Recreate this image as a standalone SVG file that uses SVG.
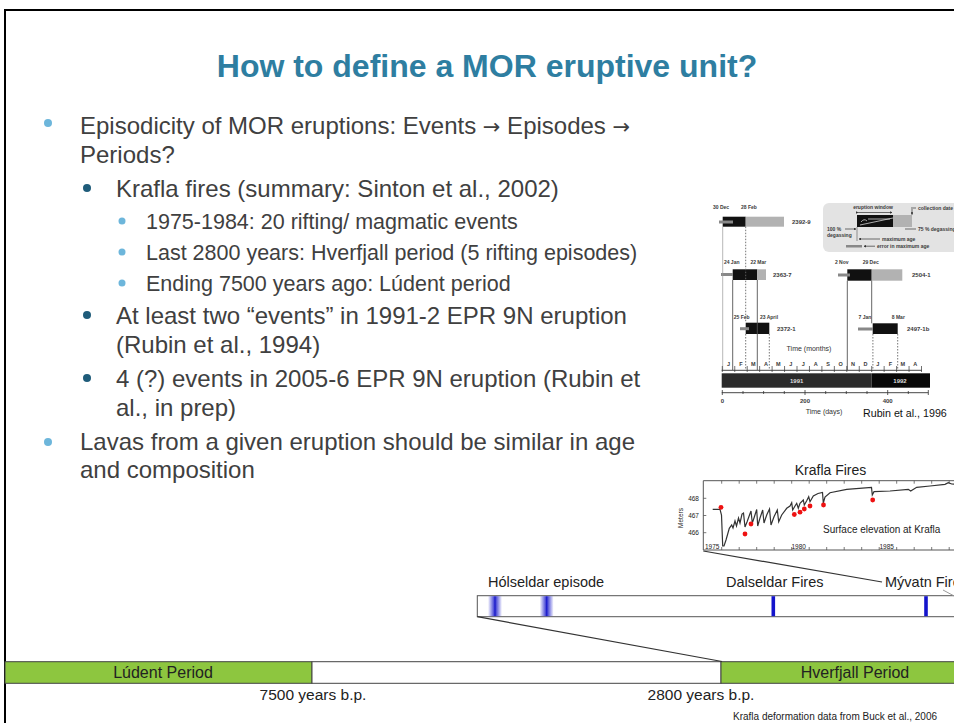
<svg xmlns="http://www.w3.org/2000/svg" width="954" height="723" viewBox="0 0 954 723">
<defs>
<style>
.body{font-family:"Liberation Sans",Arial,sans-serif;fill:#404040}
.l1{font-size:24px}
.l3{font-size:21.5px}
.arr{font-family:"DejaVu Sans",sans-serif;font-size:21px}
.tiny{font-family:"Liberation Sans",Arial,sans-serif;font-size:5px;font-weight:bold;fill:#3a3a3a}
.small{font-family:"Liberation Sans",Arial,sans-serif;fill:#333}
.myr{font-family:"Liberation Sans",Arial,sans-serif;fill:#222}
.blk{fill:#111}
.gry{fill:#b2b2b2}
.vsolid{stroke:#555;stroke-width:0.9;fill:none}
.vdot{stroke:#666;stroke-width:0.9;stroke-dasharray:1.5 1.5;fill:none}
.stub{fill:#888}
.conn{stroke:#333;stroke-width:1.2;fill:none}
</style>
<linearGradient id="blurBlue" x1="0" x2="1" y1="0" y2="0">
<stop offset="0" stop-color="#2a2ad0" stop-opacity="0"/>
<stop offset="0.4" stop-color="#2a2ad0" stop-opacity="0.8"/>
<stop offset="0.5" stop-color="#1515c8" stop-opacity="1"/>
<stop offset="0.6" stop-color="#2a2ad0" stop-opacity="0.8"/>
<stop offset="1" stop-color="#2a2ad0" stop-opacity="0"/>
</linearGradient>
<marker id="ah" viewBox="0 0 6 6" refX="5" refY="3" markerWidth="4" markerHeight="4" orient="auto">
<path d="M0,0 L6,3 L0,6 z" fill="#333"/>
</marker>
</defs>

<rect x="0" y="0" width="954" height="723" fill="#ffffff"/>
<!-- slide border -->
<path d="M5,723 L5,10 L954,10" fill="none" stroke="#000" stroke-width="2"/>

<g id="title">
<text x="487" y="77" text-anchor="middle" font-family="Liberation Sans, Arial, sans-serif" font-size="32" font-weight="bold" fill="#2E7EA1">How to define a MOR eruptive unit?</text>
</g>

<g id="bullets">
<circle cx="48" cy="123" r="4" fill="#6DB6DB"/>
<text class="body l1" x="80" y="134">Episodicity of MOR eruptions: Events <tspan class="arr">→</tspan> Episodes <tspan class="arr">→</tspan></text>
<text class="body l1" x="80" y="163">Periods?</text>
<circle cx="87" cy="188" r="4" fill="#1F5C7A"/>
<text class="body l1" x="116" y="197">Krafla fires (summary: Sinton et al., 2002)</text>
<circle cx="122" cy="221" r="3.5" fill="#6DB6DB"/>
<text class="body l3" x="146" y="229">1975-1984: 20 rifting/ magmatic events</text>
<circle cx="122" cy="252" r="3.5" fill="#6DB6DB"/>
<text class="body l3" x="146" y="260">Last 2800 years: Hverfjall period (5 rifting episodes)</text>
<circle cx="122" cy="283" r="3.5" fill="#6DB6DB"/>
<text class="body l3" x="146" y="291">Ending 7500 years ago: Lúdent period</text>
<circle cx="87" cy="315" r="4" fill="#1F5C7A"/>
<text class="body l1" x="116" y="324">At least two “events” in 1991-2 EPR 9N eruption</text>
<text class="body l1" x="116" y="353">(Rubin et al., 1994)</text>
<circle cx="87" cy="378" r="4" fill="#1F5C7A"/>
<text class="body l1" x="116" y="387">4 (?) events in 2005-6 EPR 9N eruption (Rubin et</text>
<text class="body l1" x="116" y="416">al., in prep)</text>
<circle cx="48" cy="442" r="4" fill="#6DB6DB"/>
<text class="body l1" x="80" y="450">Lavas from a given eruption should be similar in age</text>
<text class="body l1" x="80" y="478">and composition</text>
</g>

<g id="rubin-figure">
<!-- inset legend -->
<rect x="823" y="203" width="140" height="49" rx="6" fill="#e3e3e3"/>
<text class="tiny" x="873" y="209" text-anchor="middle">eruption window</text>
<line x1="858" y1="212.5" x2="892" y2="212.5" stroke="#333" stroke-width="0.7" marker-start="url(#ah)" marker-end="url(#ah)"/>
<line x1="913" y1="208" x2="916" y2="208" stroke="#333" stroke-width="0.7"/>
<text class="tiny" x="918" y="210">collection date</text>
<line x1="912" y1="207" x2="912" y2="214.5" stroke="#333" stroke-width="0.7" marker-end="url(#ah)"/>
<rect x="857" y="215" width="36" height="12" class="blk"/>
<rect x="893" y="215" width="19" height="12" class="gry"/>
<path d="M861,222 q3,-4 6,-1 M868,219 L890,219 M860,225 L893,218" stroke="#eee" stroke-width="0.7" fill="none"/>
<text class="tiny" x="827" y="231">100 %</text>
<line x1="845" y1="229" x2="856" y2="229" stroke="#333" stroke-width="0.7" marker-end="url(#ah)"/>
<text class="tiny" x="827" y="237">degassing</text>
<line x1="905" y1="229" x2="916" y2="229" stroke="#333" stroke-width="0.7"/>
<text class="tiny" x="918" y="231">75 % degassing</text>
<line x1="857" y1="227" x2="857" y2="241" stroke="#555" stroke-width="0.6"/>
<line x1="880" y1="239" x2="859" y2="239" stroke="#333" stroke-width="0.7" marker-end="url(#ah)"/>
<text class="tiny" x="882" y="241">maximum age</text>
<rect x="846" y="245" width="16" height="2.5" class="stub"/>
<line x1="875" y1="246.2" x2="864" y2="246.2" stroke="#333" stroke-width="0.7" marker-end="url(#ah)"/>
<text class="tiny" x="877" y="248">error in maximum age</text>

<!-- 2392-9 -->
<text class="tiny" x="721" y="209" text-anchor="middle">30 Dec</text>
<text class="tiny" x="749" y="209" text-anchor="middle">28 Feb</text>
<rect x="722.7" y="216.7" width="23" height="10" class="blk"/>
<rect x="745.7" y="216.7" width="38.3" height="10" class="gry"/>
<rect x="719" y="220.5" width="14" height="3" class="stub"/>
<text class="tiny" x="792" y="224" style="font-size:6px">2392-9</text>

<!-- 2363-7 -->
<text class="tiny" x="731.7" y="264" text-anchor="middle">24 Jan</text>
<text class="tiny" x="758.3" y="264" text-anchor="middle">22 Mar</text>
<rect x="732.7" y="269.3" width="24.6" height="10.7" class="blk"/>
<rect x="757.3" y="269.3" width="8.7" height="10.7" class="gry"/>
<rect x="721" y="273" width="12" height="3" class="stub"/>
<text class="tiny" x="773" y="276.5" style="font-size:6px">2363-7</text>

<!-- 2504-1 -->
<text class="tiny" x="841.7" y="264" text-anchor="middle">2 Nov</text>
<text class="tiny" x="870.7" y="264" text-anchor="middle">29 Dec</text>
<rect x="847.3" y="269.3" width="24.4" height="11.4" class="blk"/>
<rect x="871.7" y="269.3" width="30.6" height="11.4" class="gry"/>
<rect x="838" y="273.5" width="12" height="3" class="stub"/>
<text class="tiny" x="912" y="276.5" style="font-size:6px">2504-1</text>

<!-- 2372-1 -->
<text class="tiny" x="741.7" y="319" text-anchor="middle">25 Feb</text>
<text class="tiny" x="769" y="319" text-anchor="middle">23 April</text>
<rect x="745.7" y="322.7" width="23.6" height="11.3" class="blk"/>
<rect x="740" y="327.2" width="9" height="3" class="stub"/>
<text class="tiny" x="777" y="330.5" style="font-size:6px">2372-1</text>

<!-- 2497-1b -->
<text class="tiny" x="865" y="319" text-anchor="middle">7 Jan</text>
<text class="tiny" x="898.3" y="319" text-anchor="middle">8 Mar</text>
<rect x="872.7" y="323.3" width="25" height="10.7" class="blk"/>
<rect x="858" y="327.5" width="15" height="3" class="stub"/>
<text class="tiny" x="907" y="331" style="font-size:6px">2497-1b</text>

<!-- vertical guide lines -->
<line x1="722.7" y1="226.7" x2="722.7" y2="370" stroke="#999" stroke-width="0.7"/>
<line x1="732.7" y1="280" x2="732.7" y2="370" class="vsolid"/>
<line x1="745.7" y1="226.7" x2="745.7" y2="322.7" class="vdot"/>
<line x1="745.7" y1="334" x2="745.7" y2="370" class="vdot"/>
<line x1="757.3" y1="280" x2="757.3" y2="370" class="vsolid"/>
<line x1="769.3" y1="334" x2="769.3" y2="370" class="vdot"/>
<line x1="847.3" y1="280.7" x2="847.3" y2="370" class="vsolid"/>
<line x1="871.7" y1="280.7" x2="871.7" y2="323.3" class="vsolid"/>
<line x1="872.9" y1="334" x2="872.9" y2="370" class="vdot"/>
<line x1="897.7" y1="334" x2="897.7" y2="370" class="vdot"/>

<text class="small" x="809" y="350.5" text-anchor="middle" font-size="7">Time (months)</text>

<!-- month axis -->
<line x1="721.7" y1="370.3" x2="921.7" y2="370.3" stroke="#333" stroke-width="0.9"/>
<path d="M722.3,366v6 M734.75,366v6 M747.2,366v6 M759.65,366v6 M772.1,366v6 M784.55,366v6 M797,366v6 M809.45,366v6 M821.9,366v6 M834.35,366v6 M846.8,366v6 M859.25,366v6 M871.7,366v6 M884.15,366v6 M896.6,366v6 M909.05,366v6 M921.5,366v6" stroke="#333" stroke-width="0.7"/>
<g class="tiny" text-anchor="middle" style="font-size:5.5px">
<text x="728.5" y="366">J</text><text x="741" y="366">F</text><text x="753.4" y="366">M</text><text x="765.9" y="366">A</text>
<text x="778.3" y="366">M</text><text x="790.8" y="366">J</text><text x="803.2" y="366">J</text><text x="815.7" y="366">A</text>
<text x="828.1" y="366">S</text><text x="840.6" y="366">O</text><text x="853" y="366">N</text><text x="865.5" y="366">D</text>
<text x="877.9" y="366">J</text><text x="890.4" y="366">F</text><text x="902.8" y="366">M</text><text x="915.3" y="366">A</text>
</g>

<!-- year bar -->
<rect x="721.7" y="373.3" width="150" height="14.4" fill="#2b2b2b"/>
<rect x="871.7" y="373.3" width="58.3" height="14.4" fill="#080808"/>
<text x="796.7" y="382.5" text-anchor="middle" font-family="Liberation Sans, Arial, sans-serif" font-size="6" font-weight="bold" fill="#ddd">1991</text>
<text x="900" y="382.5" text-anchor="middle" font-family="Liberation Sans, Arial, sans-serif" font-size="6" font-weight="bold" fill="#ddd">1992</text>

<!-- days axis -->
<line x1="721.7" y1="392.7" x2="928.3" y2="392.7" stroke="#333" stroke-width="0.9"/>
<path d="M722.3,390v5 M743,391v3 M763.6,391v3 M784.3,391v3 M805,390v5 M825.7,391v3 M846.3,391v3 M867,391v3 M887.7,390v5 M908.3,391v3 M928.3,390v5" stroke="#333" stroke-width="0.8"/>
<text class="tiny" x="722.3" y="403" text-anchor="middle" style="font-size:6px">0</text>
<text class="tiny" x="805" y="403" text-anchor="middle" style="font-size:6px">200</text>
<text class="tiny" x="887.7" y="403" text-anchor="middle" style="font-size:6px">400</text>
<text class="small" x="824" y="414" text-anchor="middle" font-size="7">Time (days)</text>
<text x="863" y="416.6" font-family="Liberation Sans, Arial, sans-serif" font-size="10.7" fill="#111">Rubin et al., 1996</text>
</g>

<g id="krafla-plot">
<text class="myr" x="830.5" y="475" text-anchor="middle" font-size="14">Krafla Fires</text>
<path d="M960,480.7 L703.3,480.7 L703.3,550 L960,550" fill="none" stroke="#555" stroke-width="1"/>
<path d="M721.7,480.7v3 M739.2,480.7v3 M756.7,480.7v3 M774.2,480.7v3 M791.7,480.7v3 M809.2,480.7v3 M826.7,480.7v3 M844.2,480.7v3 M861.7,480.7v3 M879.2,480.7v3 M896.7,480.7v3 M914.2,480.7v3 M931.7,480.7v3 M949.2,480.7v3 M721.7,550v-3 M739.2,550v-3 M756.7,550v-3 M774.2,550v-3 M791.7,550v-3 M809.2,550v-3 M826.7,550v-3 M844.2,550v-3 M861.7,550v-3 M879.2,550v-3 M896.7,550v-3 M914.2,550v-3 M931.7,550v-3 M949.2,550v-3 M703.3,498.3h3 M703.3,515.5h3 M703.3,532.7h3" stroke="#555" stroke-width="0.8"/>
<text class="myr" x="699" y="500.5" text-anchor="end" font-size="6.5">468</text>
<text class="myr" x="699" y="517.7" text-anchor="end" font-size="6.5">467</text>
<text class="myr" x="699" y="535" text-anchor="end" font-size="6.5">466</text>
<text class="myr" x="683" y="518" text-anchor="middle" font-size="6.5" transform="rotate(-90 683 518)">Meters</text>
<text class="myr" x="705" y="548.5" font-size="6.5">1975</text>
<text class="myr" x="791.5" y="548.5" font-size="6.5">1980</text>
<text class="myr" x="879.5" y="548.5" font-size="6.5">1985</text>
<text class="myr" x="823" y="532.5" font-size="10">Surface elevation at Krafla</text>
<path d="M712.7,509.3 L720,509.3 L721.5,515 L722.7,546 L724,546 L726,540 L729.3,528.3 L731.7,525 L733,528 L735,521 L736.5,526 L738.5,518 L740,523 L742,514 L743.5,513 L745,527 L747,522 L749.5,515 L751,511 L752.3,523 L754,518 L756.7,509.5 L757.7,526 L760,518 L762.7,510 L764,523 L766.7,515 L769.5,509 L771,525 L774,516.7 L777.3,510 L778.7,521.7 L781.7,515 L786.7,508.3 L790,506 L791.7,502.7 L792.7,510 L795,506 L796.7,503.3 L798.3,508.3 L800,503.3 L803.3,500 L804.3,505 L806.7,500.7 L808.7,496.7 L810,501.7 L813.3,496 L818,493.5 L822.5,492.5 L823.3,503 L825,497 L830,492.7 L846.7,489.3 L871.5,487.5 L872.3,495 L874,491.7 L890,491 L908.3,489.3 L910.7,491 L916.7,487.3 L930,486 L945,484.3 L948.3,482.7 L951.7,484 L956,484.3" fill="none" stroke="#333" stroke-width="1.2"/>
<g fill="#ee1111">
<circle cx="721" cy="507.3" r="2.4"/>
<circle cx="745" cy="534" r="2.4"/>
<circle cx="751" cy="524" r="2.4"/>
<circle cx="794.3" cy="514.5" r="2.4"/>
<circle cx="800" cy="512.2" r="2.4"/>
<circle cx="804.3" cy="509" r="2.4"/>
<circle cx="810" cy="506" r="2.4"/>
<circle cx="823.5" cy="505" r="2.4"/>
<circle cx="872.7" cy="500" r="2.4"/>
</g>
</g>

<g id="timeline-bar">
<rect x="477.3" y="595.7" width="490" height="21" fill="#fff" stroke="#555" stroke-width="1"/>
<rect x="488" y="596.2" width="14" height="20" fill="url(#blurBlue)"/>
<rect x="539.7" y="596.2" width="14" height="20" fill="url(#blurBlue)"/>
<rect x="771.5" y="596.2" width="3.6" height="20" fill="#1414cc"/>
<rect x="924.2" y="596.2" width="3.6" height="20" fill="#1414cc"/>
<text class="myr" x="488" y="587" font-size="14.5">Hólseldar episode</text>
<text class="myr" x="726" y="587" font-size="14.5">Dalseldar Fires</text>
<text class="myr" x="885" y="587" font-size="14.5">Mývatn Fires</text>
</g>

<g id="period-bar">
<rect x="5" y="661.7" width="307" height="21.6" fill="#8DC63F" stroke="#444" stroke-width="1"/>
<rect x="312" y="661.7" width="409" height="21.6" fill="#fff" stroke="#444" stroke-width="1"/>
<rect x="721" y="661.7" width="250" height="21.6" fill="#8DC63F" stroke="#444" stroke-width="1"/>
<text class="myr" x="163" y="678" text-anchor="middle" font-size="16">Lúdent Period</text>
<text class="myr" x="855" y="678" text-anchor="middle" font-size="16">Hverfjall Period</text>
</g>

<g id="labels">
<text class="myr" x="313" y="700" text-anchor="middle" font-size="15.5">7500 years b.p.</text>
<text class="myr" x="701" y="700" text-anchor="middle" font-size="15.5">2800 years b.p.</text>
<text class="myr" x="937" y="720" text-anchor="end" font-size="10">Krafla deformation data from Buck et al., 2006</text>
</g>

<g id="connectors">
<line x1="703.3" y1="551" x2="882" y2="582" class="conn"/>
<line x1="943" y1="590" x2="956" y2="597" stroke="#999" stroke-width="1"/>
<line x1="477.3" y1="616.7" x2="722" y2="661.5" class="conn"/>
</g>
</svg>
